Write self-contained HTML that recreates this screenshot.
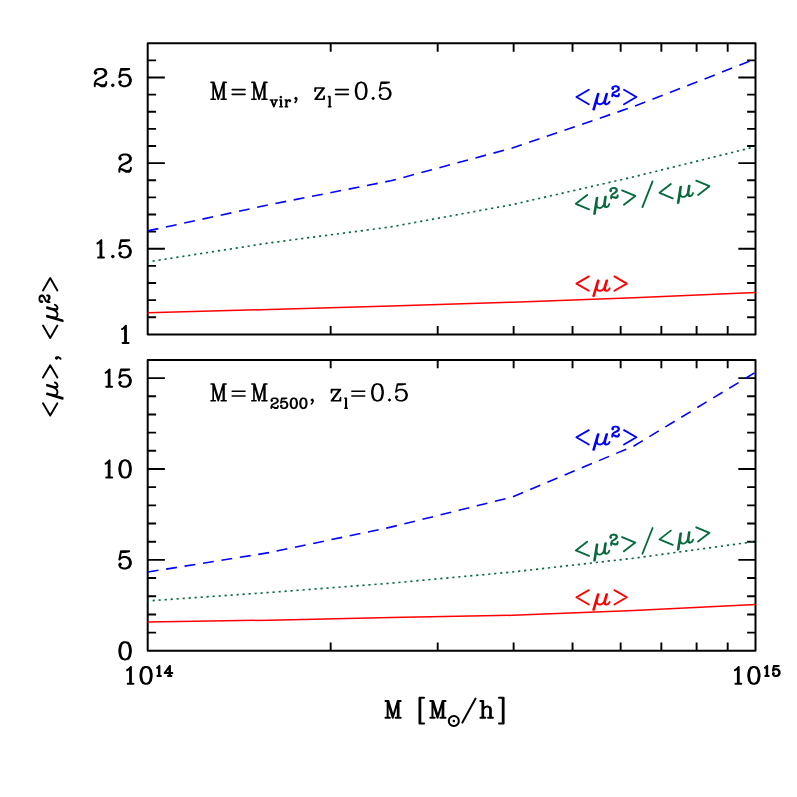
<!DOCTYPE html><html><head><meta charset="utf-8"><title>plot</title>
<style>html,body{margin:0;padding:0;background:#fff;font-family:"Liberation Sans",sans-serif}svg{display:block}</style></head><body>
<svg width="797" height="797" viewBox="0 0 797 797">
<rect width="797" height="797" fill="#fff"/>
<path d="M147.7,317.28h8.4M755.5,317.28h-8.4M147.7,300.15h8.4M755.5,300.15h-8.4M147.7,283.03h8.4M755.5,283.03h-8.4M147.7,265.91h8.4M755.5,265.91h-8.4M147.7,248.78h17.2M755.5,248.78h-17.2M147.7,231.66h8.4M755.5,231.66h-8.4M147.7,214.54h8.4M755.5,214.54h-8.4M147.7,197.41h8.4M755.5,197.41h-8.4M147.7,180.29h8.4M755.5,180.29h-8.4M147.7,163.16h17.2M755.5,163.16h-17.2M147.7,146.04h8.4M755.5,146.04h-8.4M147.7,128.92h8.4M755.5,128.92h-8.4M147.7,111.79h8.4M755.5,111.79h-8.4M147.7,94.67h8.4M755.5,94.67h-8.4M147.7,77.55h17.2M755.5,77.55h-17.2M147.7,60.42h8.4M755.5,60.42h-8.4M330.67,43.3v8.4M330.67,334.4v-8.4M437.69,43.3v8.4M437.69,334.4v-8.4M513.63,43.3v8.4M513.63,334.4v-8.4M572.53,43.3v8.4M572.53,334.4v-8.4M620.66,43.3v8.4M620.66,334.4v-8.4M661.35,43.3v8.4M661.35,334.4v-8.4M696.6,43.3v8.4M696.6,334.4v-8.4M727.69,43.3v8.4M727.69,334.4v-8.4M147.7,632.62h8.4M755.5,632.62h-8.4M147.7,614.44h8.4M755.5,614.44h-8.4M147.7,596.26h8.4M755.5,596.26h-8.4M147.7,578.07h8.4M755.5,578.07h-8.4M147.7,559.89h17.2M755.5,559.89h-17.2M147.7,541.71h8.4M755.5,541.71h-8.4M147.7,523.53h8.4M755.5,523.53h-8.4M147.7,505.35h8.4M755.5,505.35h-8.4M147.7,487.17h8.4M755.5,487.17h-8.4M147.7,468.99h17.2M755.5,468.99h-17.2M147.7,450.81h8.4M755.5,450.81h-8.4M147.7,432.62h8.4M755.5,432.62h-8.4M147.7,414.44h8.4M755.5,414.44h-8.4M147.7,396.26h8.4M755.5,396.26h-8.4M147.7,378.08h17.2M755.5,378.08h-17.2M330.67,359.9v8.4M330.67,650.8v-8.4M437.69,359.9v8.4M437.69,650.8v-8.4M513.63,359.9v8.4M513.63,650.8v-8.4M572.53,359.9v8.4M572.53,650.8v-8.4M620.66,359.9v8.4M620.66,650.8v-8.4M661.35,359.9v8.4M661.35,650.8v-8.4M696.6,359.9v8.4M696.6,650.8v-8.4M727.69,359.9v8.4M727.69,650.8v-8.4" fill="none" stroke="#000" stroke-width="1.9"/>
<path d="M147.7,43.3H755.5V334.4H147.7ZM147.7,359.9H755.5V650.8H147.7Z" fill="none" stroke="#000" stroke-width="2.0" stroke-linejoin="round"/>
<path d="M147.7,312.7L269.3,309.5L390.8,306.1L512.4,302.2L633.9,297.8L755.5,292.5" fill="none" stroke="#ff0000" stroke-width="1.5" stroke-linejoin="round"/>
<path d="M147.7,230.9L269.3,204.7L390.8,180.8L512.4,148L633.9,106.5L755.5,59" fill="none" stroke="#0000ff" stroke-width="1.6" stroke-dasharray="10.93 7.73" stroke-linejoin="round"/>
<path d="M147.7,261.9L269.3,242.9L390.8,226.9L512.4,204.6L633.9,176.8L755.5,146.7" fill="none" stroke="#076a3c" stroke-width="1.65" stroke-dasharray="2.2 3.811" stroke-dashoffset="1.1"/>
<path d="M147.7,622.1L269.3,620.15L390.8,617.6L512.4,615.3L633.9,610.6L755.5,604.46" fill="none" stroke="#ff0000" stroke-width="1.5" stroke-linejoin="round"/>
<path d="M147.7,572.05L269.3,552.6L390.8,527.15L512.4,497L633.9,445.95L755.5,372.3" fill="none" stroke="#0000ff" stroke-width="1.6" stroke-dasharray="10.93 7.73" stroke-linejoin="round"/>
<path d="M147.7,600.9L269.3,592.5L390.8,583.2L512.4,572L633.9,558.2L755.5,541.5" fill="none" stroke="#076a3c" stroke-width="1.65" stroke-dasharray="2.2 3.811" stroke-dashoffset="1.1"/>
<path transform="translate(133.3,86.15) translate(-41,0)" d="M2.46,-1.64L2.46,-2.46L3.28,-4.92L4.92,-6.56L9.84,-9.02L12.30,-10.66L13.12,-12.30L13.12,-13.94L12.30,-15.58L11.48,-16.40L9.84,-17.22L6.56,-17.22L4.10,-16.40L3.28,-15.58L2.46,-13.94L2.46,-13.12L3.28,-12.30L4.10,-13.12L3.28,-13.94M2.46,-1.64L3.28,-2.46L4.92,-2.46L9.02,-0.82L11.48,-0.82L13.12,-1.64L13.94,-2.46L13.12,-0.82L12.30,0.00L9.02,0.00L4.92,-2.46M2.46,-1.64L2.46,0.00M6.56,-7.38L10.66,-9.02L13.12,-10.66L13.94,-12.30L13.94,-13.94L13.12,-15.58L12.30,-16.40L9.84,-17.22M13.94,-4.10L13.94,-2.46M19.68,-0.82L20.50,-1.64L21.32,-0.82L20.50,0.00L19.68,-0.82M27.88,-3.28L28.70,-4.10L27.88,-4.92L27.06,-4.10L27.06,-3.28L27.88,-1.64L28.70,-0.82L31.16,0.00L33.62,0.00L36.08,-0.82L37.72,-2.46L38.54,-4.92L38.54,-6.56L37.72,-9.02L36.08,-10.66L33.62,-11.48L31.16,-11.48L28.70,-10.66L27.06,-9.02L28.70,-17.22L36.90,-17.22L32.80,-16.40L28.70,-16.40M33.62,-11.48L35.26,-10.66L36.90,-9.02L37.72,-6.56L37.72,-4.92L36.90,-2.46L35.26,-0.82L33.62,0.00" fill="none" stroke="#000" stroke-width="2.0" stroke-linecap="round" stroke-linejoin="round"/>
<path transform="translate(133.3,171.76) translate(-16.4,0)" d="M2.46,-1.64L2.46,-2.46L3.28,-4.92L4.92,-6.56L9.84,-9.02L12.30,-10.66L13.12,-12.30L13.12,-13.94L12.30,-15.58L11.48,-16.40L9.84,-17.22L6.56,-17.22L4.10,-16.40L3.28,-15.58L2.46,-13.94L2.46,-13.12L3.28,-12.30L4.10,-13.12L3.28,-13.94M2.46,-1.64L3.28,-2.46L4.92,-2.46L9.02,-0.82L11.48,-0.82L13.12,-1.64L13.94,-2.46L13.12,-0.82L12.30,0.00L9.02,0.00L4.92,-2.46M2.46,-1.64L2.46,0.00M6.56,-7.38L10.66,-9.02L13.12,-10.66L13.94,-12.30L13.94,-13.94L13.12,-15.58L12.30,-16.40L9.84,-17.22M13.94,-4.10L13.94,-2.46" fill="none" stroke="#000" stroke-width="2.0" stroke-linecap="round" stroke-linejoin="round"/>
<path transform="translate(133.3,257.38) translate(-41,0)" d="M5.17,-13.94L6.56,-14.76L9.02,-17.22L9.02,0.00M8.20,-16.40L8.20,0.00M5.74,0.00L11.64,0.00M19.68,-0.82L20.50,-1.64L21.32,-0.82L20.50,0.00L19.68,-0.82M27.88,-3.28L28.70,-4.10L27.88,-4.92L27.06,-4.10L27.06,-3.28L27.88,-1.64L28.70,-0.82L31.16,0.00L33.62,0.00L36.08,-0.82L37.72,-2.46L38.54,-4.92L38.54,-6.56L37.72,-9.02L36.08,-10.66L33.62,-11.48L31.16,-11.48L28.70,-10.66L27.06,-9.02L28.70,-17.22L36.90,-17.22L32.80,-16.40L28.70,-16.40M33.62,-11.48L35.26,-10.66L36.90,-9.02L37.72,-6.56L37.72,-4.92L36.90,-2.46L35.26,-0.82L33.62,0.00" fill="none" stroke="#000" stroke-width="2.0" stroke-linecap="round" stroke-linejoin="round"/>
<path transform="translate(133.3,343) translate(-16.4,0)" d="M5.17,-13.94L6.56,-14.76L9.02,-17.22L9.02,0.00M8.20,-16.40L8.20,0.00M5.74,0.00L11.64,0.00" fill="none" stroke="#000" stroke-width="2.0" stroke-linecap="round" stroke-linejoin="round"/>
<path transform="translate(133.3,386.68) translate(-32.8,0)" d="M5.17,-13.94L6.56,-14.76L9.02,-17.22L9.02,0.00M8.20,-16.40L8.20,0.00M5.74,0.00L11.64,0.00M19.68,-3.28L20.50,-4.10L19.68,-4.92L18.86,-4.10L18.86,-3.28L19.68,-1.64L20.50,-0.82L22.96,0.00L25.42,0.00L27.88,-0.82L29.52,-2.46L30.34,-4.92L30.34,-6.56L29.52,-9.02L27.88,-10.66L25.42,-11.48L22.96,-11.48L20.50,-10.66L18.86,-9.02L20.50,-17.22L28.70,-17.22L24.60,-16.40L20.50,-16.40M25.42,-11.48L27.06,-10.66L28.70,-9.02L29.52,-6.56L29.52,-4.92L28.70,-2.46L27.06,-0.82L25.42,0.00" fill="none" stroke="#000" stroke-width="2.0" stroke-linecap="round" stroke-linejoin="round"/>
<path transform="translate(133.3,477.59) translate(-32.8,0)" d="M5.17,-13.94L6.56,-14.76L9.02,-17.22L9.02,0.00M8.20,-16.40L8.20,0.00M5.74,0.00L11.64,0.00M23.78,-17.22L25.42,-17.22L27.88,-16.40L29.52,-13.94L30.34,-9.84L30.34,-7.38L29.52,-3.28L27.88,-0.82L25.42,0.00L23.78,0.00L21.32,-0.82L19.68,-3.28L18.86,-7.38L18.86,-9.84L19.68,-13.94L21.32,-16.40L23.78,-17.22L22.14,-16.40L21.32,-15.58L20.50,-13.94L19.68,-9.84L19.68,-7.38L20.50,-3.28L21.32,-1.64L22.14,-0.82L23.78,0.00M25.42,-17.22L27.06,-16.40L27.88,-15.58L28.70,-13.94L29.52,-9.84L29.52,-7.38L28.70,-3.28L27.88,-1.64L27.06,-0.82L25.42,0.00" fill="none" stroke="#000" stroke-width="2.0" stroke-linecap="round" stroke-linejoin="round"/>
<path transform="translate(133.3,568.49) translate(-16.4,0)" d="M3.28,-3.28L4.10,-4.10L3.28,-4.92L2.46,-4.10L2.46,-3.28L3.28,-1.64L4.10,-0.82L6.56,0.00L9.02,0.00L11.48,-0.82L13.12,-2.46L13.94,-4.92L13.94,-6.56L13.12,-9.02L11.48,-10.66L9.02,-11.48L6.56,-11.48L4.10,-10.66L2.46,-9.02L4.10,-17.22L12.30,-17.22L8.20,-16.40L4.10,-16.40M9.02,-11.48L10.66,-10.66L12.30,-9.02L13.12,-6.56L13.12,-4.92L12.30,-2.46L10.66,-0.82L9.02,0.00" fill="none" stroke="#000" stroke-width="2.0" stroke-linecap="round" stroke-linejoin="round"/>
<path transform="translate(133.3,659.4) translate(-16.4,0)" d="M7.38,-17.22L9.02,-17.22L11.48,-16.40L13.12,-13.94L13.94,-9.84L13.94,-7.38L13.12,-3.28L11.48,-0.82L9.02,0.00L7.38,0.00L4.92,-0.82L3.28,-3.28L2.46,-7.38L2.46,-9.84L3.28,-13.94L4.92,-16.40L7.38,-17.22L5.74,-16.40L4.92,-15.58L4.10,-13.94L3.28,-9.84L3.28,-7.38L4.10,-3.28L4.92,-1.64L5.74,-0.82L7.38,0.00M9.02,-17.22L10.66,-16.40L11.48,-15.58L12.30,-13.94L13.12,-9.84L13.12,-7.38L12.30,-3.28L11.48,-1.64L10.66,-0.82L9.02,0.00" fill="none" stroke="#000" stroke-width="2.0" stroke-linecap="round" stroke-linejoin="round"/>
<path transform="translate(147.7,683.8) translate(-25.6,0)" d="M5.04,-13.60L6.40,-14.40L8.80,-16.80L8.80,0.00M8.00,-16.00L8.00,0.00M5.60,0.00L11.36,0.00M23.20,-16.80L24.80,-16.80L27.20,-16.00L28.80,-13.60L29.60,-9.60L29.60,-7.20L28.80,-3.20L27.20,-0.80L24.80,0.00L23.20,0.00L20.80,-0.80L19.20,-3.20L18.40,-7.20L18.40,-9.60L19.20,-13.60L20.80,-16.00L23.20,-16.80L21.60,-16.00L20.80,-15.20L20.00,-13.60L19.20,-9.60L19.20,-7.20L20.00,-3.20L20.80,-1.60L21.60,-0.80L23.20,0.00M24.80,-16.80L26.40,-16.00L27.20,-15.20L28.00,-13.60L28.80,-9.60L28.80,-7.20L28.00,-3.20L27.20,-1.60L26.40,-0.80L24.80,0.00M35.02,-16.00L35.84,-16.48L37.28,-17.92L37.28,-7.84M36.80,-17.44L36.80,-7.84M35.36,-7.84L38.82,-7.84M45.92,-7.84L49.28,-7.84M47.36,-16.96L47.36,-7.84M47.84,-7.84L47.84,-17.92L42.56,-10.72L50.24,-10.72" fill="none" stroke="#000" stroke-width="2.0" stroke-linecap="round" stroke-linejoin="round"/>
<path transform="translate(755.5,683.8) translate(-25.6,0)" d="M5.04,-13.60L6.40,-14.40L8.80,-16.80L8.80,0.00M8.00,-16.00L8.00,0.00M5.60,0.00L11.36,0.00M23.20,-16.80L24.80,-16.80L27.20,-16.00L28.80,-13.60L29.60,-9.60L29.60,-7.20L28.80,-3.20L27.20,-0.80L24.80,0.00L23.20,0.00L20.80,-0.80L19.20,-3.20L18.40,-7.20L18.40,-9.60L19.20,-13.60L20.80,-16.00L23.20,-16.80L21.60,-16.00L20.80,-15.20L20.00,-13.60L19.20,-9.60L19.20,-7.20L20.00,-3.20L20.80,-1.60L21.60,-0.80L23.20,0.00M24.80,-16.80L26.40,-16.00L27.20,-15.20L28.00,-13.60L28.80,-9.60L28.80,-7.20L28.00,-3.20L27.20,-1.60L26.40,-0.80L24.80,0.00M35.02,-16.00L35.84,-16.48L37.28,-17.92L37.28,-7.84M36.80,-17.44L36.80,-7.84M35.36,-7.84L38.82,-7.84M43.52,-9.76L44.00,-10.24L43.52,-10.72L43.04,-10.24L43.04,-9.76L43.52,-8.80L44.00,-8.32L45.44,-7.84L46.88,-7.84L48.32,-8.32L49.28,-9.28L49.76,-10.72L49.76,-11.68L49.28,-13.12L48.32,-14.08L46.88,-14.56L45.44,-14.56L44.00,-14.08L43.04,-13.12L44.00,-17.92L48.80,-17.92L46.40,-17.44L44.00,-17.44M46.88,-14.56L47.84,-14.08L48.80,-13.12L49.28,-11.68L49.28,-10.72L48.80,-9.28L47.84,-8.32L46.88,-7.84" fill="none" stroke="#000" stroke-width="2.0" stroke-linecap="round" stroke-linejoin="round"/>
<path transform="translate(383.5,717.8)" d="M2.00,-16.80L4.90,-16.80L9.24,-2.40M2.00,0.00L6.34,0.00M4.17,0.00L4.17,-16.80L9.24,0.00L14.31,-16.80L14.31,0.00L17.20,0.00M12.14,0.00L14.31,0.00M14.31,-16.80L17.20,-16.80M15.03,-16.80L15.03,0.00M36.00,-20.00L40.56,-20.00M36.00,-20.00L36.00,5.60L40.56,5.60M36.80,-20.00L36.80,5.60M46.80,-16.80L49.70,-16.80L54.04,-2.40M46.80,0.00L51.14,0.00M48.97,0.00L48.97,-16.80L54.04,0.00L59.11,-16.80L59.11,0.00L62.00,0.00M56.94,0.00L59.11,0.00M59.11,-16.80L62.00,-16.80M59.83,-16.80L59.83,0.00M75.31,3.20L75.19,4.31L74.82,5.37L74.22,6.31L73.43,7.10L72.49,7.70L71.43,8.07L70.32,8.19L69.21,8.07L68.15,7.70L67.21,7.10L66.42,6.31L65.82,5.37L65.45,4.31L65.33,3.20L65.45,2.09L65.82,1.03L66.42,0.09L67.21,-0.70L68.15,-1.30L69.21,-1.67L70.32,-1.79L71.43,-1.67L72.49,-1.30L73.43,-0.70L74.22,0.09L74.82,1.03L75.19,2.09L75.31,3.20M70.13,3.01L70.51,3.01L70.51,3.39L70.13,3.39L70.13,3.01M78.88,4.80L92.08,-19.20M96.88,-16.80L99.66,-16.80L99.66,0.00L101.75,0.00M96.88,0.00L99.66,0.00M98.97,-16.80L98.97,0.00M99.66,-8.80L101.06,-10.40L103.14,-11.20L104.54,-11.20L105.93,-10.40L106.62,-8.80L106.62,0.00L104.54,0.00M104.54,-11.20L106.62,-10.40L107.32,-8.80L107.32,0.00L106.62,0.00M107.32,0.00L109.41,0.00M115.52,-20.00L120.08,-20.00L120.08,5.60L115.52,5.60M119.28,-20.00L119.28,5.60" fill="none" stroke="#000" stroke-width="2.0" stroke-linecap="round" stroke-linejoin="round"/>
<path transform="translate(57.4,418.8) rotate(-90)" d="M15.60,-14.40L3.20,-7.20L15.60,0.00M24.64,-10.40L20.00,5.28M25.44,-10.40L20.80,5.28M24.16,-5.60L23.68,-3.20L23.84,-1.60L24.64,-0.48L26.00,0.00L27.60,0.00L29.20,-0.80L30.64,-2.40L31.84,-4.80M33.20,-10.40L31.36,-4.00L31.12,-2.00L31.44,-0.64L32.40,0.00L33.60,0.00L34.80,-0.48L35.76,-1.44L36.40,-2.56M34.00,-10.40L32.16,-4.00L31.92,-2.00L32.24,-0.64M41.20,-14.40L53.60,-7.20L41.20,0.00M60.00,3.20L60.80,2.40L61.60,0.80L61.60,-0.80L60.80,-1.60L60.00,-0.80L60.80,0.00M93.20,-14.40L80.80,-7.20L93.20,0.00M102.24,-10.40L97.60,5.28M103.04,-10.40L98.40,5.28M101.76,-5.60L101.28,-3.20L101.44,-1.60L102.24,-0.48L103.60,0.00L105.20,0.00L106.80,-0.80L108.24,-2.40L109.44,-4.80M110.80,-10.40L108.96,-4.00L108.72,-2.00L109.04,-0.64L110.00,0.00L111.20,0.00L112.40,-0.48L113.36,-1.44L114.00,-2.56M111.60,-10.40L109.76,-4.00L109.52,-2.00L109.84,-0.64M116.64,-8.80L116.64,-9.28L117.12,-10.72L118.08,-11.68L120.96,-13.12L122.40,-14.08L122.88,-15.04L122.88,-16.00L122.40,-16.96L121.92,-17.44L120.96,-17.92L119.04,-17.92L117.60,-17.44L117.12,-16.96L116.64,-16.00L116.64,-15.52L117.12,-15.04L117.60,-15.52L117.12,-16.00M116.64,-8.80L117.12,-9.28L118.08,-9.28L120.48,-8.32L121.92,-8.32L122.88,-8.80L123.36,-9.28L122.88,-8.32L122.40,-7.84L120.48,-7.84L118.08,-9.28M116.64,-8.80L116.64,-7.84M119.04,-12.16L121.44,-13.12L122.88,-14.08L123.36,-15.04L123.36,-16.00L122.88,-16.96L122.40,-17.44L120.96,-17.92M123.36,-10.24L123.36,-9.28M128.40,-14.40L140.80,-7.20L128.40,0.00" fill="none" stroke="#000" stroke-width="1.9" stroke-linecap="round" stroke-linejoin="round"/>
<path transform="translate(209,99.2)" d="M2.00,-16.80L4.90,-16.80L9.24,-2.40M2.00,0.00L6.34,0.00M4.17,0.00L4.17,-16.80L9.24,0.00L14.31,-16.80L14.31,0.00L17.20,0.00M12.14,0.00L14.31,0.00M14.31,-16.80L17.20,-16.80M15.03,-16.80L15.03,0.00M23.20,-9.60L36.02,-9.60M23.20,-4.80L36.02,-4.80M42.80,-16.80L45.70,-16.80L50.04,-2.40M42.80,0.00L47.14,0.00M44.97,0.00L44.97,-16.80L50.04,0.00L55.11,-16.80L55.11,0.00L58.00,0.00M52.94,0.00L55.11,0.00M55.11,-16.80L58.00,-16.80M55.83,-16.80L55.83,0.00M61.28,0.80L63.96,0.80M62.17,0.80L64.85,7.52L67.53,0.80L65.74,0.80M62.62,0.80L64.85,6.56M67.53,0.80L68.42,0.80M70.88,0.80L72.32,0.80L72.32,7.52M71.84,0.80L71.84,7.52M70.88,7.52L73.28,7.52M71.36,-2.08L71.84,-2.56L72.32,-2.08L71.84,-1.60L71.36,-2.08M76.16,0.80L77.60,0.80L77.60,7.52M77.12,0.80L77.12,7.52M76.16,7.52L78.56,7.52M77.60,3.68L78.08,2.24L78.90,1.28L79.76,0.80L80.96,0.80L81.44,1.28L81.44,1.76L80.96,2.24L80.58,1.76L80.96,1.28M86.08,3.20L86.88,2.40L87.68,0.80L87.68,-0.80L86.88,-1.60L86.08,-0.80L86.88,0.00M106.84,-11.20L115.20,-11.20L106.84,0.00L106.08,0.00L114.44,-11.20M106.84,-11.20L106.08,-8.00L106.08,-11.20L106.84,-11.20M106.84,0.00L115.20,0.00L115.20,-3.20L114.44,0.00M119.52,-2.56L120.96,-2.56L120.96,7.52M120.48,-2.56L120.48,7.52M119.52,7.52L121.92,7.52M126.56,-9.60L139.38,-9.60M126.56,-4.80L139.38,-4.80M151.36,-16.80L152.96,-16.80L155.36,-16.00L156.96,-13.60L157.76,-9.60L157.76,-7.20L156.96,-3.20L155.36,-0.80L152.96,0.00L151.36,0.00L148.96,-0.80L147.36,-3.20L146.56,-7.20L146.56,-9.60L147.36,-13.60L148.96,-16.00L151.36,-16.80L149.76,-16.00L148.96,-15.20L148.16,-13.60L147.36,-9.60L147.36,-7.20L148.16,-3.20L148.96,-1.60L149.76,-0.80L151.36,0.00M152.96,-16.80L154.56,-16.00L155.36,-15.20L156.16,-13.60L156.96,-9.60L156.96,-7.20L156.16,-3.20L155.36,-1.60L154.56,-0.80L152.96,0.00M163.36,-0.80L164.16,-1.60L164.96,-0.80L164.16,0.00L163.36,-0.80M171.36,-3.20L172.16,-4.00L171.36,-4.80L170.56,-4.00L170.56,-3.20L171.36,-1.60L172.16,-0.80L174.56,0.00L176.96,0.00L179.36,-0.80L180.96,-2.40L181.76,-4.80L181.76,-6.40L180.96,-8.80L179.36,-10.40L176.96,-11.20L174.56,-11.20L172.16,-10.40L170.56,-8.80L172.16,-16.80L180.16,-16.80L176.16,-16.00L172.16,-16.00M176.96,-11.20L178.56,-10.40L180.16,-8.80L180.96,-6.40L180.96,-4.80L180.16,-2.40L178.56,-0.80L176.96,0.00" fill="none" stroke="#000" stroke-width="1.6" stroke-linecap="round" stroke-linejoin="round"/>
<path transform="translate(209,400.8)" d="M2.00,-16.80L4.90,-16.80L9.24,-2.40M2.00,0.00L6.34,0.00M4.17,0.00L4.17,-16.80L9.24,0.00L14.31,-16.80L14.31,0.00L17.20,0.00M12.14,0.00L14.31,0.00M14.31,-16.80L17.20,-16.80M15.03,-16.80L15.03,0.00M23.20,-9.60L36.02,-9.60M23.20,-4.80L36.02,-4.80M42.80,-16.80L45.70,-16.80L50.04,-2.40M42.80,0.00L47.14,0.00M44.97,0.00L44.97,-16.80L50.04,0.00L55.11,-16.80L55.11,0.00L58.00,0.00M52.94,0.00L55.11,0.00M55.11,-16.80L58.00,-16.80M55.83,-16.80L55.83,0.00M62.24,6.56L62.24,6.08L62.72,4.64L63.68,3.68L66.56,2.24L68.00,1.28L68.48,0.32L68.48,-0.64L68.00,-1.60L67.52,-2.08L66.56,-2.56L64.64,-2.56L63.20,-2.08L62.72,-1.60L62.24,-0.64L62.24,-0.16L62.72,0.32L63.20,-0.16L62.72,-0.64M62.24,6.56L62.72,6.08L63.68,6.08L66.08,7.04L67.52,7.04L68.48,6.56L68.96,6.08L68.48,7.04L68.00,7.52L66.08,7.52L63.68,6.08M62.24,6.56L62.24,7.52M64.64,3.20L67.04,2.24L68.48,1.28L68.96,0.32L68.96,-0.64L68.48,-1.60L68.00,-2.08L66.56,-2.56M68.96,5.12L68.96,6.08M72.32,5.60L72.80,5.12L72.32,4.64L71.84,5.12L71.84,5.60L72.32,6.56L72.80,7.04L74.24,7.52L75.68,7.52L77.12,7.04L78.08,6.08L78.56,4.64L78.56,3.68L78.08,2.24L77.12,1.28L75.68,0.80L74.24,0.80L72.80,1.28L71.84,2.24L72.80,-2.56L77.60,-2.56L75.20,-2.08L72.80,-2.08M75.68,0.80L76.64,1.28L77.60,2.24L78.08,3.68L78.08,4.64L77.60,6.08L76.64,7.04L75.68,7.52M84.32,-2.56L85.28,-2.56L86.72,-2.08L87.68,-0.64L88.16,1.76L88.16,3.20L87.68,5.60L86.72,7.04L85.28,7.52L84.32,7.52L82.88,7.04L81.92,5.60L81.44,3.20L81.44,1.76L81.92,-0.64L82.88,-2.08L84.32,-2.56L83.36,-2.08L82.88,-1.60L82.40,-0.64L81.92,1.76L81.92,3.20L82.40,5.60L82.88,6.56L83.36,7.04L84.32,7.52M85.28,-2.56L86.24,-2.08L86.72,-1.60L87.20,-0.64L87.68,1.76L87.68,3.20L87.20,5.60L86.72,6.56L86.24,7.04L85.28,7.52M93.92,-2.56L94.88,-2.56L96.32,-2.08L97.28,-0.64L97.76,1.76L97.76,3.20L97.28,5.60L96.32,7.04L94.88,7.52L93.92,7.52L92.48,7.04L91.52,5.60L91.04,3.20L91.04,1.76L91.52,-0.64L92.48,-2.08L93.92,-2.56L92.96,-2.08L92.48,-1.60L92.00,-0.64L91.52,1.76L91.52,3.20L92.00,5.60L92.48,6.56L92.96,7.04L93.92,7.52M94.88,-2.56L95.84,-2.08L96.32,-1.60L96.80,-0.64L97.28,1.76L97.28,3.20L96.80,5.60L96.32,6.56L95.84,7.04L94.88,7.52M102.40,3.20L103.20,2.40L104.00,0.80L104.00,-0.80L103.20,-1.60L102.40,-0.80L103.20,0.00M123.16,-11.20L131.52,-11.20L123.16,0.00L122.40,0.00L130.76,-11.20M123.16,-11.20L122.40,-8.00L122.40,-11.20L123.16,-11.20M123.16,0.00L131.52,0.00L131.52,-3.20L130.76,0.00M135.84,-2.56L137.28,-2.56L137.28,7.52M136.80,-2.56L136.80,7.52M135.84,7.52L138.24,7.52M142.88,-9.60L155.70,-9.60M142.88,-4.80L155.70,-4.80M167.68,-16.80L169.28,-16.80L171.68,-16.00L173.28,-13.60L174.08,-9.60L174.08,-7.20L173.28,-3.20L171.68,-0.80L169.28,0.00L167.68,0.00L165.28,-0.80L163.68,-3.20L162.88,-7.20L162.88,-9.60L163.68,-13.60L165.28,-16.00L167.68,-16.80L166.08,-16.00L165.28,-15.20L164.48,-13.60L163.68,-9.60L163.68,-7.20L164.48,-3.20L165.28,-1.60L166.08,-0.80L167.68,0.00M169.28,-16.80L170.88,-16.00L171.68,-15.20L172.48,-13.60L173.28,-9.60L173.28,-7.20L172.48,-3.20L171.68,-1.60L170.88,-0.80L169.28,0.00M179.68,-0.80L180.48,-1.60L181.28,-0.80L180.48,0.00L179.68,-0.80M187.68,-3.20L188.48,-4.00L187.68,-4.80L186.88,-4.00L186.88,-3.20L187.68,-1.60L188.48,-0.80L190.88,0.00L193.28,0.00L195.68,-0.80L197.28,-2.40L198.08,-4.80L198.08,-6.40L197.28,-8.80L195.68,-10.40L193.28,-11.20L190.88,-11.20L188.48,-10.40L186.88,-8.80L188.48,-16.80L196.48,-16.80L192.48,-16.00L188.48,-16.00M193.28,-11.20L194.88,-10.40L196.48,-8.80L197.28,-6.40L197.28,-4.80L196.48,-2.40L194.88,-0.80L193.28,0.00" fill="none" stroke="#000" stroke-width="1.6" stroke-linecap="round" stroke-linejoin="round"/>
<path transform="translate(573.2,104.2)" d="M15.60,-14.40L3.20,-7.20L15.60,0.00M24.64,-10.40L20.00,5.28M25.44,-10.40L20.80,5.28M24.16,-5.60L23.68,-3.20L23.84,-1.60L24.64,-0.48L26.00,0.00L27.60,0.00L29.20,-0.80L30.64,-2.40L31.84,-4.80M33.20,-10.40L31.36,-4.00L31.12,-2.00L31.44,-0.64L32.40,0.00L33.60,0.00L34.80,-0.48L35.76,-1.44L36.40,-2.56M34.00,-10.40L32.16,-4.00L31.92,-2.00L32.24,-0.64M39.04,-8.80L39.04,-9.28L39.52,-10.72L40.48,-11.68L43.36,-13.12L44.80,-14.08L45.28,-15.04L45.28,-16.00L44.80,-16.96L44.32,-17.44L43.36,-17.92L41.44,-17.92L40.00,-17.44L39.52,-16.96L39.04,-16.00L39.04,-15.52L39.52,-15.04L40.00,-15.52L39.52,-16.00M39.04,-8.80L39.52,-9.28L40.48,-9.28L42.88,-8.32L44.32,-8.32L45.28,-8.80L45.76,-9.28L45.28,-8.32L44.80,-7.84L42.88,-7.84L40.48,-9.28M39.04,-8.80L39.04,-7.84M41.44,-12.16L43.84,-13.12L45.28,-14.08L45.76,-15.04L45.76,-16.00L45.28,-16.96L44.80,-17.44L43.36,-17.92M45.76,-10.24L45.76,-9.28M50.80,-14.40L63.20,-7.20L50.80,0.00" fill="none" stroke="#0000ff" stroke-width="1.85" stroke-linecap="round" stroke-linejoin="round"/>
<path transform="translate(573.58,211.36) rotate(-7.5)" d="M15.60,-14.40L3.20,-7.20L15.60,0.00M24.64,-10.40L20.00,5.28M25.44,-10.40L20.80,5.28M24.16,-5.60L23.68,-3.20L23.84,-1.60L24.64,-0.48L26.00,0.00L27.60,0.00L29.20,-0.80L30.64,-2.40L31.84,-4.80M33.20,-10.40L31.36,-4.00L31.12,-2.00L31.44,-0.64L32.40,0.00L33.60,0.00L34.80,-0.48L35.76,-1.44L36.40,-2.56M34.00,-10.40L32.16,-4.00L31.92,-2.00L32.24,-0.64M39.04,-8.80L39.04,-9.28L39.52,-10.72L40.48,-11.68L43.36,-13.12L44.80,-14.08L45.28,-15.04L45.28,-16.00L44.80,-16.96L44.32,-17.44L43.36,-17.92L41.44,-17.92L40.00,-17.44L39.52,-16.96L39.04,-16.00L39.04,-15.52L39.52,-15.04L40.00,-15.52L39.52,-16.00M39.04,-8.80L39.52,-9.28L40.48,-9.28L42.88,-8.32L44.32,-8.32L45.28,-8.80L45.76,-9.28L45.28,-8.32L44.80,-7.84L42.88,-7.84L40.48,-9.28M39.04,-8.80L39.04,-7.84M41.44,-12.16L43.84,-13.12L45.28,-14.08L45.76,-15.04L45.76,-16.00L45.28,-16.96L44.80,-17.44L43.36,-17.92M45.76,-10.24L45.76,-9.28M50.80,-14.40L63.20,-7.20L50.80,0.00M68.80,4.80L82.24,-19.36M100.00,-14.40L87.60,-7.20L100.00,0.00M109.04,-10.40L104.40,5.28M109.84,-10.40L105.20,5.28M108.56,-5.60L108.08,-3.20L108.24,-1.60L109.04,-0.48L110.40,0.00L112.00,0.00L113.60,-0.80L115.04,-2.40L116.24,-4.80M117.60,-10.40L115.76,-4.00L115.52,-2.00L115.84,-0.64L116.80,0.00L118.00,0.00L119.20,-0.48L120.16,-1.44L120.80,-2.56M118.40,-10.40L116.56,-4.00L116.32,-2.00L116.64,-0.64M125.60,-14.40L138.00,-7.20L125.60,0.00" fill="none" stroke="#076a3c" stroke-width="1.85" stroke-linecap="round" stroke-linejoin="round"/>
<path transform="translate(573.2,290.8)" d="M15.60,-14.40L3.20,-7.20L15.60,0.00M24.64,-10.40L20.00,5.28M25.44,-10.40L20.80,5.28M24.16,-5.60L23.68,-3.20L23.84,-1.60L24.64,-0.48L26.00,0.00L27.60,0.00L29.20,-0.80L30.64,-2.40L31.84,-4.80M33.20,-10.40L31.36,-4.00L31.12,-2.00L31.44,-0.64L32.40,0.00L33.60,0.00L34.80,-0.48L35.76,-1.44L36.40,-2.56M34.00,-10.40L32.16,-4.00L31.92,-2.00L32.24,-0.64M41.20,-14.40L53.60,-7.20L41.20,0.00" fill="none" stroke="#ff0000" stroke-width="1.85" stroke-linecap="round" stroke-linejoin="round"/>
<path transform="translate(573.2,444.5)" d="M15.60,-14.40L3.20,-7.20L15.60,0.00M24.64,-10.40L20.00,5.28M25.44,-10.40L20.80,5.28M24.16,-5.60L23.68,-3.20L23.84,-1.60L24.64,-0.48L26.00,0.00L27.60,0.00L29.20,-0.80L30.64,-2.40L31.84,-4.80M33.20,-10.40L31.36,-4.00L31.12,-2.00L31.44,-0.64L32.40,0.00L33.60,0.00L34.80,-0.48L35.76,-1.44L36.40,-2.56M34.00,-10.40L32.16,-4.00L31.92,-2.00L32.24,-0.64M39.04,-8.80L39.04,-9.28L39.52,-10.72L40.48,-11.68L43.36,-13.12L44.80,-14.08L45.28,-15.04L45.28,-16.00L44.80,-16.96L44.32,-17.44L43.36,-17.92L41.44,-17.92L40.00,-17.44L39.52,-16.96L39.04,-16.00L39.04,-15.52L39.52,-15.04L40.00,-15.52L39.52,-16.00M39.04,-8.80L39.52,-9.28L40.48,-9.28L42.88,-8.32L44.32,-8.32L45.28,-8.80L45.76,-9.28L45.28,-8.32L44.80,-7.84L42.88,-7.84L40.48,-9.28M39.04,-8.80L39.04,-7.84M41.44,-12.16L43.84,-13.12L45.28,-14.08L45.76,-15.04L45.76,-16.00L45.28,-16.96L44.80,-17.44L43.36,-17.92M45.76,-10.24L45.76,-9.28M50.80,-14.40L63.20,-7.20L50.80,0.00" fill="none" stroke="#0000ff" stroke-width="1.85" stroke-linecap="round" stroke-linejoin="round"/>
<path transform="translate(573.58,557.96) rotate(-7.5)" d="M15.60,-14.40L3.20,-7.20L15.60,0.00M24.64,-10.40L20.00,5.28M25.44,-10.40L20.80,5.28M24.16,-5.60L23.68,-3.20L23.84,-1.60L24.64,-0.48L26.00,0.00L27.60,0.00L29.20,-0.80L30.64,-2.40L31.84,-4.80M33.20,-10.40L31.36,-4.00L31.12,-2.00L31.44,-0.64L32.40,0.00L33.60,0.00L34.80,-0.48L35.76,-1.44L36.40,-2.56M34.00,-10.40L32.16,-4.00L31.92,-2.00L32.24,-0.64M39.04,-8.80L39.04,-9.28L39.52,-10.72L40.48,-11.68L43.36,-13.12L44.80,-14.08L45.28,-15.04L45.28,-16.00L44.80,-16.96L44.32,-17.44L43.36,-17.92L41.44,-17.92L40.00,-17.44L39.52,-16.96L39.04,-16.00L39.04,-15.52L39.52,-15.04L40.00,-15.52L39.52,-16.00M39.04,-8.80L39.52,-9.28L40.48,-9.28L42.88,-8.32L44.32,-8.32L45.28,-8.80L45.76,-9.28L45.28,-8.32L44.80,-7.84L42.88,-7.84L40.48,-9.28M39.04,-8.80L39.04,-7.84M41.44,-12.16L43.84,-13.12L45.28,-14.08L45.76,-15.04L45.76,-16.00L45.28,-16.96L44.80,-17.44L43.36,-17.92M45.76,-10.24L45.76,-9.28M50.80,-14.40L63.20,-7.20L50.80,0.00M68.80,4.80L82.24,-19.36M100.00,-14.40L87.60,-7.20L100.00,0.00M109.04,-10.40L104.40,5.28M109.84,-10.40L105.20,5.28M108.56,-5.60L108.08,-3.20L108.24,-1.60L109.04,-0.48L110.40,0.00L112.00,0.00L113.60,-0.80L115.04,-2.40L116.24,-4.80M117.60,-10.40L115.76,-4.00L115.52,-2.00L115.84,-0.64L116.80,0.00L118.00,0.00L119.20,-0.48L120.16,-1.44L120.80,-2.56M118.40,-10.40L116.56,-4.00L116.32,-2.00L116.64,-0.64M125.60,-14.40L138.00,-7.20L125.60,0.00" fill="none" stroke="#076a3c" stroke-width="1.85" stroke-linecap="round" stroke-linejoin="round"/>
<path transform="translate(573.2,604.5)" d="M15.60,-14.40L3.20,-7.20L15.60,0.00M24.64,-10.40L20.00,5.28M25.44,-10.40L20.80,5.28M24.16,-5.60L23.68,-3.20L23.84,-1.60L24.64,-0.48L26.00,0.00L27.60,0.00L29.20,-0.80L30.64,-2.40L31.84,-4.80M33.20,-10.40L31.36,-4.00L31.12,-2.00L31.44,-0.64L32.40,0.00L33.60,0.00L34.80,-0.48L35.76,-1.44L36.40,-2.56M34.00,-10.40L32.16,-4.00L31.92,-2.00L32.24,-0.64M41.20,-14.40L53.60,-7.20L41.20,0.00" fill="none" stroke="#ff0000" stroke-width="1.85" stroke-linecap="round" stroke-linejoin="round"/>
</svg></body></html>
